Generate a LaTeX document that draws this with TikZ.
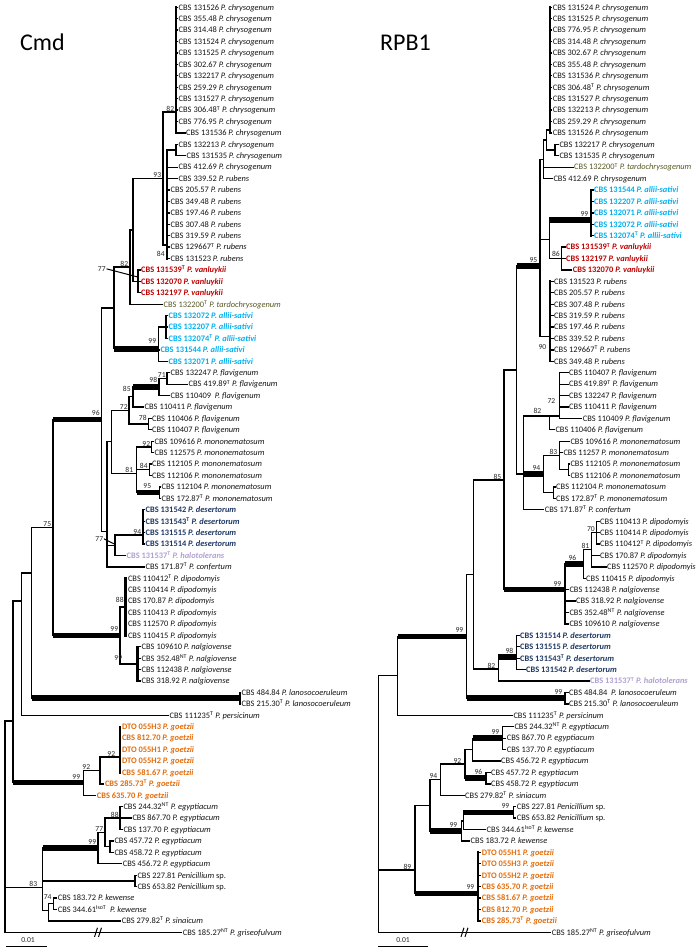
\documentclass[tikz,border=0pt]{standalone}
\usepackage{fontspec}
\setmainfont{Carlito}
\definecolor{cVan}{RGB}{192,0,0}
\definecolor{cAll}{RGB}{0,176,240}
\definecolor{cDes}{RGB}{31,56,100}
\definecolor{cHal}{RGB}{177,160,210}
\definecolor{cTar}{RGB}{89,89,38}
\definecolor{cGoe}{RGB}{228,108,10}
\definecolor{cTx}{RGB}{20,20,20}
\definecolor{cBs}{RGB}{40,40,40}
\newcommand\Ty{\textsuperscript{T}}
\newcommand\NTy{\textsuperscript{NT}}
\newcommand\ISy{\textsuperscript{IsoT}}
\newcommand\Spn[1]{\textit{P. #1}}
\newcommand\LeafX[6][]{\draw[br] (#4,#3) -- ({#5-1},#3); \node[lab,#1] (#2) at (#5,#3) {#6};}
\newcommand\VertX[4][br]{\draw[#1] (#2,#3) -- (#2,#4);}
\newcommand\HorX[4][br]{\draw[#1] (#3,#2) -- (#4,#2);}
\newcommand\SupX[4][south east]{\node[bsl,anchor=#1] at (#2,#3) {#4};}
\tikzset{
  br/.style={line width=1.3pt, line cap=rect},
  thk/.style={line width=5.5pt, line cap=butt},
  pv/.style={line width=2.2pt, line cap=rect},
  lab/.style={anchor=base west, inner sep=0pt, yshift=-2.8pt, font=\fontsize{8.4}{9}\selectfont, text=cTx},
  van/.style={text=cVan, font=\fontsize{8.4}{9}\selectfont\bfseries},
  all/.style={text=cAll, font=\fontsize{8.4}{9}\selectfont\bfseries},
  des/.style={text=cDes, font=\fontsize{8.4}{9}\selectfont\bfseries},
  hal/.style={text=cHal, font=\fontsize{8.4}{9}\selectfont\bfseries},
  tar/.style={text=cTar},
  goe/.style={text=cGoe, font=\fontsize{8.4}{9}\selectfont\bfseries},
  bsl/.style={inner sep=0.6pt, font=\fontsize{7.6}{8}\selectfont, text=cBs},
  ttl/.style={anchor=base west, inner sep=0pt, font=\fontsize{24}{28}\selectfont, text=black},
  brk/.style={line width=1pt}
}
\begin{document}
\begin{tikzpicture}
\fill[white] (0,0) rectangle (698pt,-948pt);
\useasboundingbox (0,0) rectangle (698pt,-948pt);
\begin{scope}[x=1pt,y=-11.42pt,yshift=4.12pt]
% ================= LEFT TREE (Cmd) =================
\node[ttl] (tCmd) at (20,4.74) {Cmd};
\foreach \rw/\lbl in {1/131526,2/355.48,3/314.48,4/131524,5/131525,6/302.67,7/132217,8/259.29,9/131527,10/{306.48\Ty},11/776.95}
  {\LeafX{L\rw}{\rw}{176}{178.5}{CBS \lbl\ \Spn{chrysogenum}}}
\LeafX{L12}{12}{176}{186}{CBS 131536 \Spn{chrysogenum}}
\LeafX{L13}{13}{176}{178.5}{CBS 132213 \Spn{chrysogenum}}
\LeafX{L14}{14}{176}{186.5}{CBS 131535 \Spn{chrysogenum}}
\LeafX{L15}{15}{167}{178.5}{CBS 412.69 \Spn{chrysogenum}}
\LeafX{L16}{16}{167}{178.5}{CBS 339.52 \Spn{rubens}}
\foreach \rw/\lbl in {17/205.57,18/349.48,19/197.46,20/307.48,21/319.59,22/{129667\Ty},23/131523}
  {\LeafX{L\rw}{\rw}{167}{170.5}{CBS \lbl\ \Spn{rubens}}}
\foreach \rw/\lbl in {24/{131539\Ty},25/132070,26/132197}
  {\LeafX[van]{L\rw}{\rw}{138}{141}{CBS \lbl\ \Spn{vanluykii}}}
\LeafX[tar]{L27}{27}{130}{163.5}{CBS 132200\Ty\ \Spn{tardochrysogenum}}
\foreach \rw/\lbl in {28/132072,29/132207,30/{132074\Ty}}
  {\LeafX[all]{L\rw}{\rw}{166}{168.5}{CBS \lbl\ \Spn{allii-sativi}}}
\LeafX[all]{L31}{31}{158.3}{160.3}{CBS 131544 \Spn{allii-sativi}}
\LeafX[all]{L32}{32}{158.3}{168.5}{CBS 132071 \Spn{allii-sativi}}
\LeafX{L33}{33}{167}{170.5}{CBS 132247 \Spn{flavigenum}}
\LeafX{L34}{34}{167}{188.5}{CBS 419.89\Ty\ \Spn{flavigenum}}
\LeafX{L35}{35}{159}{170.5}{CBS 110409\ \ \Spn{flavigenum}}
\LeafX{L36}{36}{133}{144.5}{CBS 110411 \Spn{flavigenum}}
\LeafX{L37}{37}{148.3}{152}{CBS 110406 \Spn{flavigenum}}
\LeafX{L38}{38}{148.3}{152}{CBS 110407 \Spn{flavigenum}}
\LeafX{L39}{39}{151.7}{154.5}{CBS 109616 \Spn{mononematosum}}
\LeafX{L40}{40}{151.7}{154.5}{CBS 112575 \Spn{mononematosum}}
\LeafX{L41}{41}{149.3}{152}{CBS 112105 \Spn{mononematosum}}
\LeafX{L42}{42}{149.3}{152}{CBS 112106 \Spn{mononematosum}}
\LeafX{L43}{43}{159.3}{161.5}{CBS 112104 \Spn{mononematosum}}
\LeafX{L44}{44}{159.3}{161.5}{CBS 172.87\Ty\ \Spn{mononematosum}}
\foreach \rw/\lbl in {45/131542,46/{131543\Ty},47/131515,48/131514}
  {\LeafX[des]{L\rw}{\rw}{143}{145.5}{CBS \lbl\ \Spn{desertorum}}}
\LeafX[hal]{L49}{49}{115}{126.5}{CBS 131537\Ty\ \Spn{halotolerans}}
\LeafX{L50}{50}{107}{145.5}{CBS 171.87\Ty\ \Spn{confertum}}
\foreach \rw/\lbl in {51/{110412\Ty},52/110414,53/170.87,54/110413,55/112570,56/110415}
  {\LeafX{L\rw}{\rw}{125.5}{127.8}{CBS \lbl\ \Spn{dipodomyis}}}
\foreach \rw/\lbl in {57/109610,58/{352.48\NTy},59/112438,60/318.92}
  {\LeafX{L\rw}{\rw}{137.5}{141.5}{CBS \lbl\ \Spn{nalgiovense}}}
\LeafX{L61}{61}{240}{241.5}{CBS 484.84 \Spn{lanosocoeruleum}}
\LeafX{L62}{62}{240}{241.5}{CBS 215.30\Ty\ \Spn{lanosocoeruleum}}
\LeafX{L63}{63}{21.7}{169.5}{CBS 111235\Ty\ \Spn{persicinum}}
\foreach \rw/\lbl in {64/{DTO 055H3},65/{CBS 812.70},66/{DTO 055H1},67/{DTO 055H2},68/{CBS 581.67}}
  {\LeafX[goe]{L\rw}{\rw}{120}{121.8}{\lbl\ \Spn{goetzii}}}
\LeafX[goe]{L69}{69}{100}{104.8}{CBS 285.73\Ty\ \Spn{goetzii}}
\LeafX[goe]{L70}{70}{83.3}{96.7}{CBS 635.70 \Spn{goetzii}}
\LeafX{L71}{71}{120}{123.3}{CBS 244.32\NTy\ \Spn{egyptiacum}}
\LeafX{L72}{72}{120}{132.3}{CBS 867.70 \Spn{egyptiacum}}
\LeafX{L73}{73}{120}{123.3}{CBS 137.70 \Spn{egyptiacum}}
\LeafX{L74}{74}{110}{114.3}{CBS 457.72 \Spn{egyptiacum}}
\LeafX{L75}{75}{110}{114.3}{CBS 458.72 \Spn{egyptiacum}}
\LeafX{L76}{76}{98}{122.7}{CBS 456.72 \Spn{egyptiacum}}
\LeafX{L77}{77}{135}{137.3}{CBS 227.81 \textit{Penicillium} sp.}
\LeafX{L78}{78}{135}{137.3}{CBS 653.82 \textit{Penicillium} sp.}
\LeafX{L79}{79}{53.3}{57.7}{CBS 183.72 \Spn{kewense}}
\LeafX{L80}{80}{53.3}{57.7}{CBS 344.61\ISy\ \ \Spn{kewense}}
\LeafX{L81}{81}{48.3}{121.7}{CBS 279.82\Ty\ \Spn{sinaicum}}
\LeafX{L82}{82}{5}{182.7}{CBS 185.27\NTy\ \Spn{griseofulvum}}
% internal branches (left)
\VertX[pv]{176}{1}{12} \HorX{10.17}{163}{176}
\VertX{176}{13}{14} \HorX{13.5}{167}{176}
\VertX[pv]{167}{13.5}{23} \HorX{21.81}{163}{167}
\VertX{163}{10.17}{21.81} \HorX{15.99}{133}{163}
\VertX{138}{24}{26} \HorX{25}{133}{138}
\VertX{133}{15.99}{25} \HorX{20.5}{130}{133}
\VertX{130}{20.5}{27} \HorX{23.75}{114}{130}
\VertX{166}{28}{30} \HorX{29}{158.3}{166}
\VertX{158.3}{29}{32} \HorX[thk]{30.9}{114}{158.3}
\VertX{114}{23.75}{30.9} \HorX{27.33}{101.7}{114}
\VertX{167}{33}{34} \HorX{33.5}{159}{167}
\VertX{159}{33.5}{35} \HorX[thk]{34.25}{133}{159}
\VertX{133}{34.25}{36} \HorX{35.1}{129}{133}
\VertX{148.3}{37}{38} \HorX{37.5}{129}{148.3}
\VertX{129}{35.1}{37.5} \HorX{36.3}{111.7}{129}
\VertX{151.7}{39}{40} \HorX{39.5}{136.7}{151.7}
\VertX{149.3}{41}{42} \HorX{41.5}{136.7}{149.3}
\VertX{159.3}{43}{44} \HorX[thk]{43.5}{136.7}{159.3}
\VertX{136.7}{39.5}{43.5} \HorX{41.8}{111.7}{136.7}
\VertX{111.7}{36.3}{41.8} \HorX{39.05}{107}{111.7}
\VertX{143}{45}{48} \HorX{47.2}{115}{143}
\VertX{115}{47.2}{49} \HorX{48.1}{107}{115}
\VertX{107}{39.05}{50} \HorX{46.9}{101.7}{107}
\VertX{101.7}{27.33}{46.9} \HorX[thk]{37.1}{53}{101.7}
\VertX[pv]{125.5}{51}{56} \HorX{53.5}{120}{125.5}
\VertX[pv]{137.5}{57}{60} \HorX{58.5}{120}{137.5}
\VertX{120}{53.5}{58.5} \HorX[thk]{56}{53}{120}
\VertX{53}{37.1}{56} \HorX{46.55}{31.7}{53}
\VertX{240}{61}{62} \HorX[thk]{61.5}{31.7}{240}
\VertX{31.7}{46.55}{61.5} \HorX{50.54}{21.7}{31.7}
\VertX{21.7}{50.54}{63} \HorX{53.0}{13}{21.7}
\VertX[pv]{120}{64}{68} \HorX{66.65}{100}{120}
\VertX{100}{66.65}{69} \HorX{67.82}{83.3}{100}
\VertX{83.3}{67.82}{70} \HorX[thk]{68.9}{13}{83.3}
\VertX{120}{71}{73} \HorX{72}{105}{120}
\VertX{110}{74}{75} \HorX{74.5}{105}{110}
\VertX{105}{72}{74.5} \HorX{73.25}{98}{105}
\VertX{98}{73.25}{76} \HorX[thk]{74.6}{42.7}{98}
\VertX{135}{77}{78} \HorX{77.5}{42.7}{135}
\VertX{53.3}{79}{80} \HorX{79.5}{48.3}{53.3}
\VertX{48.3}{79.5}{81} \HorX{80.1}{42.7}{48.3}
\VertX{42.7}{74.6}{80.1} \HorX{78.06}{5}{42.7}
\VertX{13}{53.0}{68.9} \HorX{63.5}{5}{13}
\VertX{5}{63.5}{82}
\draw[brk] (94.5,82.4) -- (97.5,81.6); \draw[brk] (98.5,82.4) -- (101.5,81.6);
% support values (left)
\SupX{175}{10.17}{82}
\SupX[east]{165.5}{22.6}{84}
\SupX{162}{15.99}{93}
\node[bsl,anchor=east] (pA) at (106.5,23.9) {77};
\draw[line width=1pt] (pA.east) -- (137,24.6);
\SupX{129}{23.75}{82}
\SupX{157}{30.55}{99}
\SupX{166.5}{33.5}{71}
\SupX{158}{33.9}{98}
\SupX[east]{131.5}{34.45}{85}
\SupX{128.5}{36.3}{72}
\SupX[east]{147.5}{37.0}{78}
\SupX{151}{39.5}{92}
\SupX{148.5}{41.5}{84}
\SupX{152}{43.18}{95}
\SupX{134}{41.8}{81}
\SupX{142}{47.2}{94}
\node[bsl,anchor=east] (pB) at (104,47.55) {77};
\draw[line width=1pt] (pB.east) -- (114.5,48.0);
\SupX{100.5}{36.85}{96}
\SupX{124.5}{53.2}{88}
\SupX{123}{58.3}{99}
\SupX{119}{55.75}{99}
\SupX{52}{46.55}{75}
\SupX{116}{66.65}{92}
\SupX{91}{67.82}{92}
\SupX{81}{68.65}{99}
\SupX{119.5}{72}{88}
\SupX{104}{73.25}{77}
\SupX{97}{74.35}{99}
\SupX{38}{78.06}{83}
\SupX[east]{52.3}{78.88}{74}
% scale bar (left)
\draw[br,line cap=butt] (6,83.22) -- (47,83.22);
\node[bsl] (sL) at (28,82.72) {0.01};
% ================= RIGHT TREE (RPB1) =================
\node[ttl] (tRPB) at (380,4.74) {RPB1};
\foreach \rw/\lbl in {1/131524,2/131525,3/776.95,4/314.48,5/302.67,6/355.48,7/131536,8/{306.48\Ty},9/131527,10/132213,11/259.29,12/131526}
  {\LeafX{R\rw}{\rw}{550}{552.7}{CBS \lbl\ \Spn{chrysogenum}}}
\LeafX{R13}{13}{555}{559.3}{CBS 132217 \Spn{chrysogenum}}
\LeafX{R14}{14}{555}{559.3}{CBS 131535 \Spn{chrysogenum}}
\LeafX[tar]{R15}{15}{543.3}{574}{CBS 132200\Ty\ \Spn{tardochrysogenum}}
\LeafX{R16}{16}{543.3}{553.3}{CBS 412.69 \Spn{chrysogenum}}
\foreach \rw/\lbl in {17/131544,18/132207,19/132071,20/132072,21/{132074\Ty}}
  {\LeafX[all]{R\rw}{\rw}{590.7}{594}{CBS \lbl\ \Spn{allii-sativi}}}
\LeafX[van]{R22}{22}{561.7}{566}{CBS 131539\Ty\ \Spn{vanluykii}}
\LeafX[van]{R23}{23}{561.7}{566}{CBS 132197 \Spn{vanluykii}}
\LeafX[van]{R24}{24}{561.7}{572.7}{CBS 132070 \Spn{vanluykii}}
\foreach \rw/\lbl in {25/131523,26/205.57,27/307.48,28/319.59,29/197.46,30/339.52,31/{129667\Ty},32/349.48}
  {\LeafX{R\rw}{\rw}{550}{554}{CBS \lbl\ \Spn{rubens}}}
\foreach \rw/\lbl in {33/110407,34/{419.89\Ty},35/132247,36/110411}
  {\LeafX{R\rw}{\rw}{559.3}{569}{CBS \lbl\ \Spn{flavigenum}}}
\LeafX{R37}{37}{559.3}{582.7}{CBS 110409 \Spn{flavigenum}}
\LeafX{R38}{38}{549.3}{555.3}{CBS 110406 \Spn{flavigenum}}
\LeafX{R39}{39}{559.3}{570.3}{CBS 109616 \Spn{mononematosum}}
\LeafX{R40}{40}{559.3}{563.3}{CBS 11257 \Spn{mononematosum}}
\LeafX{R41}{41}{568.3}{570.3}{CBS 112105 \Spn{mononematosum}}
\LeafX{R42}{42}{568.3}{570.3}{CBS 112106 \Spn{mononematosum}}
\LeafX{R43}{43}{553.3}{556}{CBS 112104 \Spn{mononematosum}}
\LeafX{R44}{44}{553.3}{556}{CBS 172.87\Ty\ \Spn{mononematosum}}
\LeafX{R45}{45}{523.3}{544.7}{CBS 171.87\Ty\ \Spn{confertum}}
\foreach \rw/\lbl in {46/110413,47/110414,48/{110412\Ty}}
  {\LeafX{R\rw}{\rw}{596.7}{600}{CBS \lbl\ \Spn{dipodomyis}}}
\LeafX{R49}{49}{591.7}{600}{CBS 170.87 \Spn{dipodomyis}}
\LeafX{R50}{50}{591.7}{607}{CBS 112570 \Spn{dipodomyis}}
\LeafX{R51}{51}{583.3}{586}{CBS 110415 \Spn{dipodomyis}}
\LeafX{R52}{52}{565}{569.3}{CBS 112438 \Spn{nalgiovense}}
\LeafX{R53}{53}{565}{576}{CBS 318.92 \Spn{nalgiovense}}
\LeafX{R54}{54}{565}{569.3}{CBS 352.48\NTy\ \Spn{nalgiovense}}
\LeafX{R55}{55}{565}{569.3}{CBS 109610 \Spn{nalgiovense}}
\foreach \rw/\lbl in {56/131514,57/131515,58/{131543\Ty}}
  {\LeafX[des]{R\rw}{\rw}{516.7}{520}{CBS \lbl\ \Spn{desertorum}}}
\LeafX[des]{R59}{59}{516.7}{526}{CBS 131542 \Spn{desertorum}}
\LeafX[hal]{R60}{60}{498.3}{590}{CBS 131537\Ty\ \Spn{halotolerans}}
\LeafX{R61}{61}{565}{569}{CBS 484.84\ \ \Spn{lanosocoeruleum}}
\LeafX{R62}{62}{565}{569}{CBS 215.30\Ty\ \Spn{lanosocoeruleum}}
\LeafX{R63}{63}{397.7}{513.3}{CBS 111235\Ty\ \Spn{persicinum}}
\LeafX{R64}{64}{502.7}{514.3}{CBS 244.32\NTy\ \Spn{egyptiacum}}
\LeafX{R65}{65}{502.7}{506.7}{CBS 867.70 \Spn{egyptiacum}}
\LeafX{R66}{66}{502.7}{506.7}{CBS 137.70 \Spn{egyptiacum}}
\LeafX{R67}{67}{472.7}{501}{CBS 456.72 \Spn{egyptiacum}}
\LeafX{R68}{68}{486}{491}{CBS 457.72 \Spn{egyptiacum}}
\LeafX{R69}{69}{486}{491}{CBS 458.72 \Spn{egyptiacum}}
\LeafX{R70}{70}{440.7}{465}{CBS 279.82\Ty\ \Spn{siniacum}}
\LeafX{R71}{71}{513.3}{516.7}{CBS 227.81 \textit{Penicillium} sp.}
\LeafX{R72}{72}{513.3}{516.7}{CBS 653.82 \textit{Penicillium} sp.}
\LeafX{R73}{73}{463.3}{486.5}{CBS 344.61\ISy\ \Spn{kewense}}
\LeafX{R74}{74}{461.7}{470.5}{CBS 183.72 \Spn{kewense}}
\foreach \rw/\lbl in {75/{DTO 055H1},76/{DTO 055H3},77/{DTO 055H2},78/{CBS 635.70},79/{CBS 581.67},80/{CBS 812.70},81/{CBS 285.73\Ty}}
  {\LeafX[goe]{R\rw}{\rw}{478.3}{481.7}{\lbl\ \Spn{goetzii}}}
\LeafX{R82}{82}{378.3}{551.7}{CBS 185.27\NTy\ \Spn{griseofulvum}}
% internal branches (right)
\VertX[pv]{550}{1}{12} \HorX{11.74}{546.7}{550}
\VertX{555}{13}{14} \HorX{13.5}{546.7}{555}
\VertX{546.7}{11.74}{13.5} \HorX{12.62}{543.3}{546.7}
\VertX{543.3}{12.62}{16} \HorX{14.31}{540}{543.3}
\VertX[pv]{590.7}{17}{21} \HorX[thk]{19.62}{549.3}{590.7}
\VertX{561.7}{22}{24} \HorX{23}{549.3}{561.7}
\VertX{549.3}{19.62}{23} \HorX{21.31}{540}{549.3}
\VertX[pv]{550}{25}{32} \HorX{29.84}{540}{550}
\VertX{540}{14.31}{29.84} \HorX[thk]{23.65}{516.7}{540}
\VertX{559.3}{33}{37} \HorX{36.79}{523.3}{559.3}
\VertX{549.3}{36.79}{38}
\VertX{568.3}{41}{42} \HorX{41.5}{559.3}{568.3}
\VertX{559.3}{39}{41.5} \HorX{40.25}{543.3}{559.3}
\VertX{553.3}{43}{44} \HorX{43.5}{543.3}{553.3}
\VertX{543.3}{40.25}{43.5} \HorX[thk]{41.875}{523.3}{543.3}
\VertX{523.3}{36.79}{45} \HorX{41.875}{516.7}{523.3}
\VertX{516.7}{23.65}{41.875} \HorX{32.76}{504}{516.7}
\VertX{596.7}{46}{48} \HorX{47}{591.7}{596.7}
\VertX{591.7}{47}{50} \HorX{48.5}{583.3}{591.7}
\VertX{583.3}{48.5}{51} \HorX[thk]{49.75}{565}{583.3}
\VertX[pv]{565}{49.75}{55} \HorX[thk]{52}{504}{565}
\VertX{504}{32.76}{52} \HorX{42.38}{473.3}{504}
\VertX{516.7}{56}{59} \HorX[thk]{57.87}{498.3}{516.7}
\VertX{498.3}{57.87}{60} \HorX{58.93}{473.3}{498.3}
\VertX{473.3}{42.38}{58.93} \HorX{50.66}{466.7}{473.3}
\VertX{565}{61}{62} \HorX[thk]{61.5}{466.7}{565}
\VertX{466.7}{50.66}{61.5} \HorX[thk]{56.08}{397.7}{466.7}
\VertX{397.7}{56.08}{63} \HorX{59.54}{378.3}{397.7}
\VertX{502.7}{64}{66} \HorX[thk]{65}{472.7}{502.7}
\VertX{472.7}{65}{67} \HorX{66}{465}{472.7}
\VertX{486}{68}{69} \HorX[thk]{68.5}{465}{486}
\VertX{465}{66}{68.5} \HorX{67.25}{440.7}{465}
\VertX{440.7}{67.25}{70} \HorX{68.63}{430}{440.7}
\VertX{513.3}{71}{72} \HorX[thk]{71.5}{463.3}{513.3}
\VertX{463.3}{71.5}{73} \HorX{72.25}{461.7}{463.3}
\VertX{461.7}{72.25}{74} \HorX[thk]{73.13}{430}{461.7}
\VertX{430}{68.63}{73.13} \HorX{70.88}{415}{430}
\VertX[pv]{478.3}{75}{81} \HorX[thk]{78.6}{415}{478.3}
\VertX{415}{70.88}{78.6} \HorX{76.54}{378.3}{415}
\VertX{378.3}{59.54}{82}
\draw[brk] (461,82.4) -- (464,81.6); \draw[brk] (465,82.4) -- (468,81.6);
% support values (right)
\SupX{589}{19.35}{99}
\SupX[east]{560.5}{22.6}{86}
\SupX[east]{547}{30.72}{90}
\SupX{538}{23.38}{95}
\SupX[east]{556}{35.45}{72}
\SupX[east]{542}{36.3}{82}
\SupX{558}{40.25}{83}
\SupX{541}{41.6}{94}
\SupX{595.5}{47}{70}
\SupX{590}{48.5}{81}
\SupX{577}{49.5}{96}
\SupX{562}{51.75}{99}
\SupX{502}{42.38}{85}
\SupX{514}{57.62}{98}
\SupX{496}{58.93}{82}
\SupX{563}{61.25}{99}
\SupX{464}{55.83}{99}
\SupX{500}{64.75}{99}
\SupX{483}{68.25}{96}
\SupX{462}{67.25}{92}
\SupX{438}{68.63}{94}
\SupX{510}{71.25}{99}
\SupX{458}{72.88}{99}
\SupX{475}{78.35}{99}
\SupX{412}{76.54}{89}
% scale bar (right)
\draw[br,line cap=butt] (378,83.22) -- (428,83.22);
\node[bsl] (sR) at (403,82.72) {0.01};
\end{scope}
\end{tikzpicture}
\end{document}
